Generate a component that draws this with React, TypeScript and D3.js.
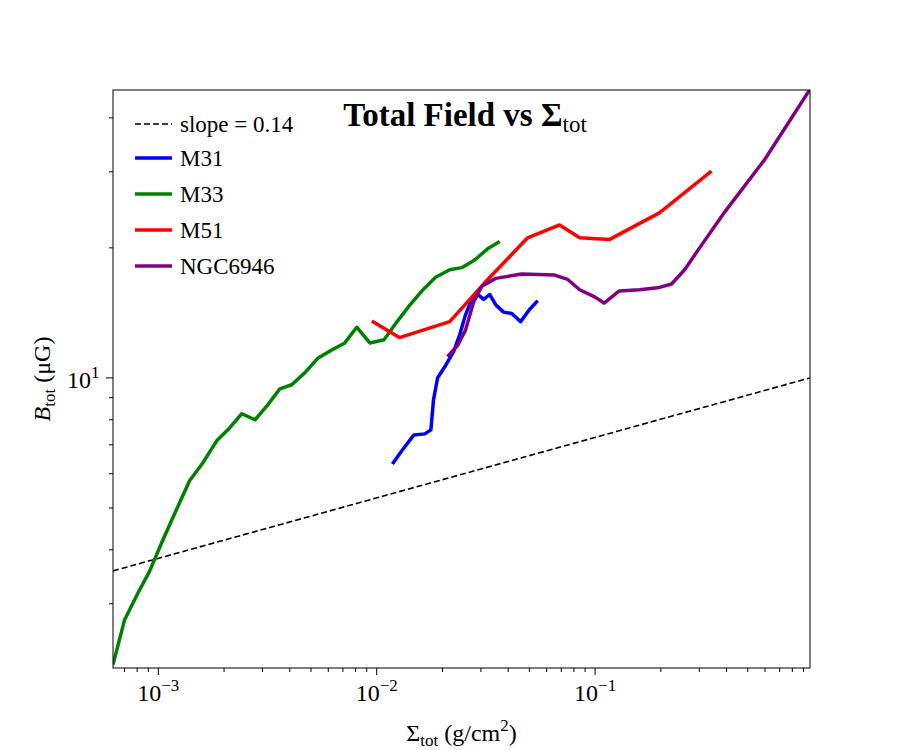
import * as d3 from 'd3';

const m31X = [0.0118, 0.0131, 0.0148, 0.0166, 0.0177, 0.0182, 0.019, 0.0207, 0.0225, 0.024, 0.0255, 0.0272, 0.029, 0.0309, 0.0329, 0.0351, 0.0381, 0.0415, 0.0456, 0.0501, 0.0546];
const m31Y = [6.32, 6.81, 7.38, 7.42, 7.58, 8.9, 10.0, 10.7, 11.5, 12.6, 14.0, 15.2, 15.6, 15.2, 15.6, 14.76, 14.2, 14.1, 13.5, 14.4, 15.1];
const m33X = [0.00062, 0.0007, 0.00081, 0.00091, 0.00105, 0.00122, 0.00139, 0.0016, 0.00185, 0.00212, 0.00241, 0.00277, 0.00317, 0.0036, 0.00408, 0.00468, 0.00537, 0.00622, 0.00714, 0.0081, 0.0093, 0.0108, 0.0124, 0.0142, 0.0163, 0.0186, 0.0216, 0.0245, 0.0281, 0.0322, 0.0366];
const m33Y = [2.17, 2.75, 3.19, 3.56, 4.22, 5.0, 5.78, 6.36, 7.15, 7.66, 8.26, 8.0, 8.66, 9.43, 9.64, 10.27, 11.1, 11.6, 12.05, 13.1, 12.05, 12.25, 13.5, 14.76, 16.0, 17.1, 17.8, 18.0, 18.75, 19.9, 20.7];
const m51X = [0.0095, 0.0127, 0.0216, 0.0312, 0.0491, 0.0688, 0.085, 0.116, 0.197, 0.341];
const m51Y = [13.55, 12.4, 13.5, 16.6, 21.1, 22.6, 21.1, 20.9, 24.1, 30.1];
const ngcX = [0.0211, 0.0235, 0.0255, 0.0278, 0.0303, 0.0351, 0.0461, 0.0653, 0.0749, 0.085, 0.0995, 0.11, 0.129, 0.16, 0.197, 0.224, 0.257, 0.301, 0.392, 0.597, 0.96];
const ngcY = [11.2, 11.9, 12.9, 15.0, 16.3, 17.0, 17.4, 17.3, 16.9, 16.0, 15.4, 14.9, 15.9, 16.0, 16.2, 16.5, 17.8, 20.0, 24.2, 32.0, 46.4];

const series = [
  { name: 'M31', color: '#0000ff', x: m31X, y: m31Y },
  { name: 'M33', color: '#008000', x: m33X, y: m33Y },
  { name: 'M51', color: '#ff0000', x: m51X, y: m51Y },
  { name: 'NGC6946', color: '#800080', x: ngcX, y: ngcY },
];
const slope = 0.14;
const xTicks = [1e-3, 1e-2, 1e-1];
const xTickExp = ['−3', '−2', '−1'];

const W = 900, H = 750;
const m = { left: 113, right: 810, top: 90, bottom: 668 };
const font = '"Liberation Serif", "DejaVu Serif", serif';

export default function App() {
  const x = d3.scaleLog().domain([6.2e-4, 0.964]).range([m.left, m.right]);
  const y = d3.scaleLog().domain([2.13, 46.4]).range([m.bottom, m.top]);
  const line = d3.line<[number, number]>().x((d) => x(d[0])).y((d) => y(d[1]));
  const dashX = [6.2e-4, 0.964];
  const dash: [number, number][] = dashX.map((v) => [v, 10 * Math.pow(v / 0.964, slope)]);

  const xMinor: number[] = [];
  for (const dec of [1e-4, 1e-3, 1e-2, 1e-1]) for (let k = 2; k <= 9; k++) {
    const v = dec * k;
    if (v >= 6.2e-4 && v <= 0.964) xMinor.push(v);
  }
  const yMinor = [3, 4, 5, 6, 7, 8, 9, 20, 30, 40];

  return (
    <svg width={W} height={H} style={{ position: 'absolute', left: 0, top: 0 }} fontFamily={font}>
      <rect width={W} height={H} fill="white" />
      <defs>
        <clipPath id="c"><rect x={m.left} y={m.top} width={m.right - m.left} height={m.bottom - m.top} /></clipPath>
      </defs>
      <g clipPath="url(#c)">
        <path d={line(dash) ?? ''} fill="none" stroke="black" strokeWidth={1.6} strokeDasharray="6,3" />
        {series.map((s) => (
          <path key={s.name} d={line(s.x.map((v, i) => [v, s.y[i]] as [number, number])) ?? ''}
            fill="none" stroke={s.color} strokeWidth={3.5} strokeLinejoin="round" />
        ))}
      </g>
      <rect x={m.left} y={m.top} width={m.right - m.left} height={m.bottom - m.top} fill="none" stroke="black" strokeWidth={1} />
      {xTicks.map((t, i) => (
        <g key={t}>
          <line x1={x(t)} x2={x(t)} y1={m.bottom} y2={m.bottom + 7} stroke="black" />
          <text x={x(t)} y={m.bottom + 33} fontSize={24} textAnchor="middle">
            10<tspan dy={-10} fontSize={17}>{xTickExp[i]}</tspan>
          </text>
        </g>
      ))}
      {xMinor.map((t) => (
        <line key={t} x1={x(t)} x2={x(t)} y1={m.bottom} y2={m.bottom + 4} stroke="black" />
      ))}
      <line x1={m.left - 7} x2={m.left} y1={y(10)} y2={y(10)} stroke="black" />
      <text x={m.left - 46} y={y(10) + 10} fontSize={24}>
        10<tspan dy={-10} fontSize={17}>1</tspan>
      </text>
      {yMinor.map((t) => (
        <line key={t} x1={m.left - 4} x2={m.left} y1={y(t)} y2={y(t)} stroke="black" />
      ))}
      <text x={(m.left + m.right) / 2} y={741} fontSize={24} textAnchor="middle">
        Σ<tspan dy={5} fontSize={17}>tot</tspan><tspan dy={-5}> (g/cm</tspan><tspan dy={-10} fontSize={17}>2</tspan><tspan dy={10}>)</tspan>
      </text>
      <text transform={`translate(50,${(m.top + m.bottom) / 2}) rotate(-90)`} fontSize={24} textAnchor="middle">
        <tspan fontStyle="italic">B</tspan><tspan dy={5} fontSize={17}>tot</tspan><tspan dy={-5}> (μG)</tspan>
      </text>
      <text x={465} y={126} fontSize={33} fontWeight="bold" textAnchor="middle">
        Total Field vs Σ<tspan dy={6} fontSize={23} fontWeight="normal">tot</tspan>
      </text>
      <g fontSize={23}>
        <line x1={135} x2={172} y1={124} y2={124} stroke="black" strokeWidth={1.6} strokeDasharray="6,3" />
        <text x={180} y={132}>slope = {slope}</text>
        {series.map((s, i) => (
          <g key={s.name}>
            <line x1={135} x2={172} y1={158 + i * 36} y2={158 + i * 36} stroke={s.color} strokeWidth={3.5} />
            <text x={180} y={166 + i * 36}>{s.name}</text>
          </g>
        ))}
      </g>
    </svg>
  );
}
